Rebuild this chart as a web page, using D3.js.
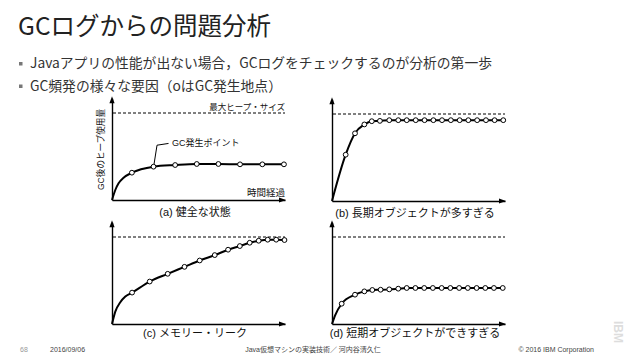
<!DOCTYPE html>
<html>
<head>
<meta charset="utf-8">
<script src="https://cdn.jsdelivr.net/npm/d3@7"></script>
<style>
  body { margin: 0; background: #fff; }
  svg { display: block; font-family: "Noto Sans CJK JP", "Liberation Sans", sans-serif; }
</style>
</head>
<body>
<svg id="slide" width="638" height="359"></svg>
<script>
// time is % of the x axis length, heap is a fraction of the max heap size (dashed line)
const captions = ['(a) 健全な状態', '(b) 長期オブジェクトが多すぎる', '(c) メモリー・リーク', '(d) 短期オブジェクトができすぎる'];

const gcTimeA = [11.5, 24.0, 36.5, 49.0, 61.5, 74.0, 86.9, 99.4];
const gcHeapA = [0.314, 0.383, 0.402, 0.414, 0.414, 0.41, 0.41, 0.41];
const riseTimeA = [0, 1.9, 3.8, 6.7];
const riseHeapA = [0, 0.115, 0.192, 0.256];

const gcTimeB = [7.9, 13.3, 18.7, 23.0, 27.7, 33.1, 38.3, 43.2, 48.4, 53.5, 58.6, 63.6, 68.7, 73.8, 78.8, 83.9, 89.0, 94.0, 99.0];
const gcHeapB = [0.532, 0.778, 0.88, 0.917, 0.921, 0.929, 0.929, 0.929, 0.929, 0.929, 0.929, 0.929, 0.929, 0.929, 0.929, 0.929, 0.929, 0.929, 0.929];
const riseTimeB = [0];
const riseHeapB = [0];

const gcTimeC = [11.6, 21.8, 32.2, 41.9, 50.7, 59.4, 67.1, 73.9, 79.6, 84.8, 90.0, 94.9, 99.7];
const gcHeapC = [0.361, 0.488, 0.577, 0.657, 0.73, 0.792, 0.854, 0.896, 0.934, 0.957, 0.969, 0.969, 0.965];
const riseTimeC = [0, 1.9, 4.8, 7.7];
const riseHeapC = [0, 0.142, 0.25, 0.315];

const gcTimeD = [5.6, 13.3, 18.7, 23.3, 28.1, 33.1, 38.3, 43.2, 48.2, 53.3, 58.3, 63.4, 68.4, 73.5, 78.5, 83.6, 88.6, 93.6, 98.7];
const gcHeapD = [0.233, 0.337, 0.375, 0.391, 0.394, 0.398, 0.406, 0.414, 0.414, 0.414, 0.414, 0.414, 0.414, 0.414, 0.414, 0.414, 0.414, 0.414, 0.414];
const riseTimeD = [0, 1.8];
const riseHeapD = [0, 0.1];

const gcTimes = [gcTimeA, gcTimeB, gcTimeC, gcTimeD];
const gcHeaps = [gcHeapA, gcHeapB, gcHeapC, gcHeapD];
const riseTimes = [riseTimeA, riseTimeB, riseTimeC, riseTimeD];
const riseHeaps = [riseHeapA, riseHeapB, riseHeapC, riseHeapD];

const maxHeap = 1;

const svg = d3.select('#slide');
const cjk = '"Noto Sans CJK JP", sans-serif';
const lat = '"Liberation Sans", "Noto Sans CJK JP", sans-serif';

// title and bullets
svg.append('text')
  .attr('x', 18).attr('y', 35)
  .style('font-family', cjk).style('font-size', '24.5px').attr('fill', '#222')
  .text('GCログからの問題分析');

const bullets = ['Javaアプリの性能が出ない場合，GCログをチェックするのが分析の第一歩', 'GC頻発の様々な要因（oはGC発生地点）'];
bullets.forEach((b, i) => {
  const y = 68 + i * 22.5;
  svg.append('rect')
    .attr('x', 19).attr('y', y - 6).attr('width', 3.5).attr('height', 3.5)
    .attr('fill', '#777');
  svg.append('text')
    .attr('x', 30).attr('y', y)
    .style('font-family', cjk).style('font-size', '13.8px').attr('fill', '#333')
    .text(b);
});

// panels
const origins = [[112, 200], [332, 201], [112, 324], [332, 324]];
const axisW = 173;
const maxH = 87;

const arrow = (g, x, y, dir) => {
  const pts = dir === 'up'
    ? [[x, y], [x - 2.6, y + 7], [x + 2.6, y + 7]]
    : [[x, y], [x - 7, y - 2.6], [x - 7, y + 2.6]];
  g.append('path').attr('d', d3.line()(pts) + 'Z').attr('fill', '#000');
};

origins.forEach((o, i) => {
  const g = svg.append('g');
  const x = d3.scaleLinear().domain([0, 100]).range([o[0], o[0] + axisW]);
  const y = d3.scaleLinear().domain([0, maxHeap]).range([o[1], o[1] - maxH]);
  const yTop = y(1.17);

  g.append('g')
    .attr('transform', `translate(0,${o[1]})`)
    .call(d3.axisBottom(x).tickValues([]).tickSizeOuter(0))
    .call(a => a.select('.domain').attr('stroke-width', 1.4));
  g.append('g')
    .attr('transform', `translate(${o[0]},0)`)
    .call(d3.axisLeft(y.copy().domain([0, 1.17]).range([o[1], yTop])).tickValues([]).tickSizeOuter(0))
    .call(a => a.select('.domain').attr('stroke-width', 1.4));
  arrow(g, x(100) + 1, o[1], 'right');
  arrow(g, o[0], yTop - 2, 'up');

  // max heap
  g.append('line')
    .attr('x1', x(0) + 1).attr('x2', x(100))
    .attr('y1', y(maxHeap)).attr('y2', y(maxHeap))
    .attr('stroke', '#000').attr('stroke-width', 1).attr('stroke-dasharray', '3,2');

  const rise = riseTimes[i].map((t, k) => [t, riseHeaps[i][k]]);
  const gc = gcTimes[i].map((t, k) => [t, gcHeaps[i][k]]);

  g.append('path')
    .datum(rise.concat(gc))
    .attr('d', d3.line().x(d => x(d[0])).y(d => y(d[1])).curve(d3.curveMonotoneX))
    .attr('fill', 'none').attr('stroke', '#000').attr('stroke-width', 2);

  g.selectAll('circle')
    .data(gc)
    .enter()
    .append('circle')
    .attr('cx', d => x(d[0])).attr('cy', d => y(d[1]))
    .attr('r', 2.4)
    .attr('fill', '#fff').attr('stroke', '#000').attr('stroke-width', 1);

  g.append('text')
    .attr('x', i % 2 === 0 ? 195 : 415)
    .attr('y', i < 2 ? o[1] + 16 : o[1] + 13)
    .attr('text-anchor', 'middle')
    .style('font-family', lat).style('font-size', '11px').attr('fill', '#111')
    .text(captions[i]);

  if (i === 0) {
    g.append('text')
      .attr('x', x(100)).attr('y', y(maxHeap) - 3)
      .attr('text-anchor', 'end')
      .style('font-family', lat).style('font-size', '8.5px').attr('fill', '#111')
      .text('最大ヒープ・サイズ');
    g.append('text')
      .attr('x', x(100)).attr('y', o[1] - 4)
      .attr('text-anchor', 'end')
      .style('font-family', lat).style('font-size', '9.5px').attr('fill', '#111')
      .text('時間経過');
    g.append('text')
      .attr('transform', `translate(${o[0] - 8},${y(0.58)}) rotate(-90)`)
      .attr('text-anchor', 'middle')
      .style('font-family', lat).style('font-size', '8.6px').attr('fill', '#111')
      .text('GC後のヒープ使用量');
    const p = gc[1];
    g.append('path')
      .attr('d', d3.line()([[x(p[0]) + 0.5, y(p[1]) - 2.4], [x(p[0]) + 3.5, y(0.63)], [x(p[0]) + 15, y(0.65)]]))
      .attr('fill', 'none').attr('stroke', '#000').attr('stroke-width', 1);
    g.append('text')
      .attr('x', x(p[0]) + 18.5).attr('y', y(0.65) + 3)
      .style('font-family', lat).style('font-size', '9px').attr('fill', '#111')
      .text('GC発生ポイント');
  }
});

// footer
const footY = 352;
const footer = [
  { x: 20, anchor: 'start', text: '68', color: '#999' },
  { x: 50, anchor: 'start', text: '2016/09/06', color: '#444' },
  { x: 313, anchor: 'middle', text: 'Java仮想マシンの実装技術／ 河内谷清久仁', color: '#444' },
  { x: 594, anchor: 'end', text: '© 2016 IBM Corporation', color: '#444' }
];
footer.forEach(f => {
  svg.append('text')
    .attr('x', f.x).attr('y', footY)
    .attr('text-anchor', f.anchor)
    .style('font-family', lat).style('font-size', '7px').attr('fill', f.color)
    .text(f.text);
});

svg.append('text')
  .attr('transform', 'translate(614,332) rotate(90)')
  .attr('text-anchor', 'middle')
  .style('font-family', lat).style('font-size', '12px').style('font-weight', 'bold')
  .attr('fill', '#ddd')
  .text('IBM');
</script>
</body>
</html>
